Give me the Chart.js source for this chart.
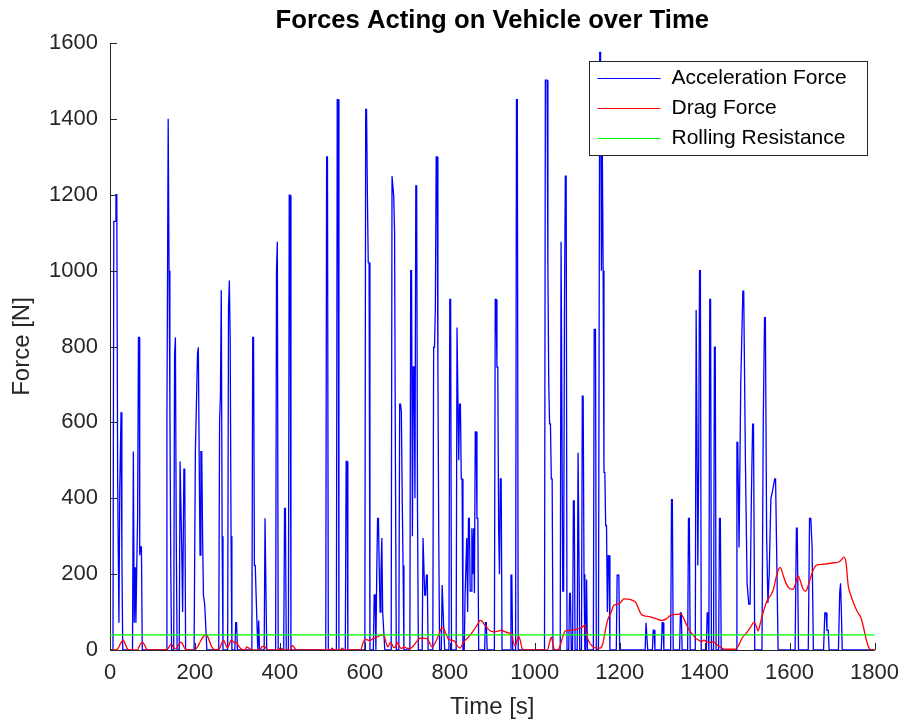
<!DOCTYPE html>
<html>
<head>
<meta charset="utf-8">
<title>Forces Acting on Vehicle over Time</title>
<script src="https://cdn.jsdelivr.net/npm/chart.js"></script>
<style>
  html, body { margin: 0; padding: 0; background: #fff; }
  canvas { display: block; }
</style>
</head>
<body>
<canvas id="forceChart" width="909" height="727"></canvas>
<script>
// [time s, force N]
const accelerationForce = [
  [0,0],[7,0],[9,1130],[12,1130],[14,1200],[16,1200],[18,450],[21,72],[23,425],[26,627],[28,250],[30,0],
  [50,0],[53,0],[55,523],[57,72],[59,218],[61,72],[63,218],[65,350],[67,824],[69,824],[70,250],[72,272],[74,272],[76,0],
  [132,0],[134,600],[137,1400],[139,1000],[141,648],[143,228],[145,0],
  [150,0],[152,777],[154,824],[156,300],[158,0],[163,0],[165,497],[167,497],[169,259],[171,100],[174,477],[176,477],[178,0],
  [198,0],[201,523],[203,622],[206,780],[208,798],[210,500],[212,250],[214,523],[216,523],[218,300],[220,145],[223,120],[226,50],[228,0],
  [256,0],[258,600],[260,673],[262,948],[264,300],[266,0],
  [277,0],[279,900],[281,974],[283,818],[285,300],[287,0],
  [294,0],[296,72],[298,72],[300,0],
  [334,0],[336,824],[338,824],[340,223],[342,223],[344,145],[346,145],[348,0],[350,78],[352,0],
  [363,0],[365,347],[367,347],[369,0],
  [390,0],[392,1000],[394,1076],[396,0],
  [409,0],[411,373],[413,373],[415,0],
  [420,0],[422,1199],[424,1199],[426,0],
  [508,0],[510,1300],[512,1300],[514,0],
  [533,0],[535,1451],[537,1451],[539,0],
  [554,0],[556,497],[558,497],[560,0],
  [600,0],[602,1425],[604,1425],[606,1200],[608,1021],[610,1021],[612,0],
  [620,0],[622,145],[624,145],[626,0],[628,200],[630,347],[632,347],[634,207],[636,100],[638,207],[640,295],[642,100],[644,60],[647,0],
  [662,0],[664,1249],[666,1249],[668,1197],[670,1100],[672,497],[674,0],
  [680,0],[682,648],[684,648],[686,627],[688,400],[690,223],[692,0],
  [706,0],[708,1000],[710,1000],[712,300],[714,746],[716,746],[718,400],[720,1223],[722,1223],[724,373],[726,0],
  [735,0],[737,295],[739,295],[741,145],[743,145],[745,197],[747,197],[749,0],
  [760,0],[762,798],[764,798],[766,900],[768,1300],[770,1300],[772,746],[774,300],[776,0],[780,0],[782,171],[784,171],[786,50],[788,0],
  [798,0],[800,924],[802,924],[804,0],
  [815,0],[817,850],[819,850],[821,500],[823,648],[825,648],[827,451],[829,451],[831,0],
  [834,0],[836,145],[838,145],[840,295],[842,100],[844,347],[846,347],[848,155],[850,155],[852,321],[854,200],[856,321],[858,150],[860,575],[862,575],[864,347],[866,347],[868,0],
  [882,0],[884,72],[886,72],[888,0],
  [905,0],[907,924],[909,924],[911,746],[913,746],[915,321],[917,200],[919,451],[921,451],[923,0],
  [942,0],[944,197],[946,197],[948,0],
  [955,0],[957,1451],[959,1451],[961,0],
  [1023,0],[1025,1502],[1029,1502],[1031,1000],[1033,700],[1035,596],[1037,596],[1039,451],[1041,451],[1043,0],
  [1060,0],[1062,1076],[1064,1076],[1066,155],[1068,155],[1070,900],[1072,1249],[1074,1249],[1076,0],
  [1080,0],[1082,149],[1084,149],[1086,0],[1089,0],[1091,393],[1093,393],[1095,0],[1100,0],[1102,520],[1104,520],[1106,0],
  [1110,0],[1112,669],[1114,669],[1116,200],[1118,0],[1120,0],[1122,186],[1124,0],
  [1138,0],[1140,845],[1143,845],[1145,0],[1150,0],[1153,1575],[1155,1575],[1157,1000],[1159,1350],[1161,1000],[1163,468],[1165,468],[1167,328],[1169,328],[1171,100],[1173,249],[1175,249],[1177,0],
  [1192,0],[1194,197],[1198,197],[1200,0],
  [1260,0],[1262,72],[1264,72],[1266,0],[1277,0],[1279,52],[1281,52],[1283,0],[1298,0],[1300,72],[1302,72],[1304,0],
  [1320,0],[1322,396],[1324,396],[1326,0],[1341,0],[1343,98],[1345,98],[1347,0],[1360,0],[1362,347],[1364,347],[1366,0],
  [1378,0],[1380,896],[1382,896],[1384,223],[1386,500],[1388,1000],[1390,1000],[1392,0],
  [1404,0],[1406,98],[1408,98],[1410,0],[1412,924],[1414,924],[1416,0],[1421,0],[1423,798],[1425,798],[1427,0],[1433,0],[1435,347],[1437,347],[1439,0],
  [1474,0],[1476,547],[1478,547],[1481,270],[1485,700],[1490,946],[1492,946],[1496,500],[1500,175],[1504,121],[1507,121],[1510,400],[1513,595],[1515,595],[1518,0],
  [1535,0],[1538,600],[1541,876],[1543,876],[1546,300],[1549,124],[1552,200],[1556,399],[1560,420],[1565,451],[1567,451],[1570,228],[1573,0],
  [1613,0],[1616,321],[1618,321],[1621,0],
  [1644,0],[1647,347],[1650,347],[1653,270],[1656,0],
  [1680,0],[1683,98],[1686,98],[1688,52],[1691,52],[1693,0],
  [1715,0],[1718,150],[1720,176],[1722,100],[1724,0],[1800,0]
];

const dragForce = [
  [0,0],[14,0],[20,6],[26,20],[31,26],[35,18],[40,5],[46,0],[64,0],[70,12],[76,21],[81,14],[86,3],[92,0],
  [134,0],[139,8],[144,16],[149,8],[154,3],[160,10],[166,20],[170,18],[175,6],[180,0],
  [198,0],[206,8],[214,25],[222,38],[227,41],[232,30],[238,12],[244,2],[250,0],
  [256,0],[262,15],[267,26],[271,18],[276,6],[280,12],[285,26],[289,24],[294,18],[298,20],[303,10],[310,2],[318,0],
  [322,8],[328,4],[334,0],[352,0],[357,8],[362,10],[368,4],[374,0],[396,0],[400,5],[406,3],[412,0],[424,0],[429,12],[434,6],[440,0],
  [518,0],[523,5],[528,0],[542,0],[547,5],[552,0],
  [590,0],[596,20],[602,28],[610,25],[620,30],[630,35],[640,40],[645,38],[650,20],[654,8],[660,20],[664,15],[668,6],[672,8],[676,20],[680,12],
  [686,4],[692,8],[698,5],[706,4],[714,10],[722,22],[730,31],[738,31],[746,30],[752,20],[758,8],[766,20],[774,40],[780,57],[784,59],[790,45],
  [796,30],[804,26],[812,22],[818,10],[824,5],[832,20],[842,32],[852,45],[860,58],[866,68],[871,78],[876,76],[882,66],[888,58],[896,50],
  [906,48],[914,50],[922,52],[930,48],[938,45],[945,42],[950,20],[954,10],[958,25],[962,36],[966,25],[970,5],[976,0],
  [1030,0],[1035,20],[1039,34],[1043,15],[1047,0],[1054,0],[1060,12],[1066,35],[1072,50],[1080,52],[1090,53],[1100,55],[1108,58],[1114,62],[1118,67],
  [1122,40],[1128,21],[1136,10],[1144,5],[1154,5],
  [1160,15],[1166,50],[1172,80],[1180,100],[1186,118],[1194,120],[1202,125],[1210,135],[1220,134],[1230,131],[1238,125],[1244,110],[1250,95],
  [1258,90],[1270,88],[1285,83],[1300,78],[1310,82],[1318,90],[1326,93],[1336,94],[1344,95],[1350,85],[1356,70],[1364,52],[1372,41],[1380,30],
  [1386,26],[1392,22],[1398,26],[1404,22],[1412,20],[1420,22],[1428,15],[1436,8],[1442,4],[1452,2],[1472,2],[1480,12],[1488,31],[1496,42],
  [1500,47],[1508,60],[1516,73],[1522,62],[1526,50],[1531,70],[1538,100],[1547,130],[1556,145],[1562,160],[1568,190],[1574,212],[1578,218],
  [1584,200],[1592,175],[1600,162],[1608,160],[1614,175],[1620,195],[1626,180],[1632,160],[1638,155],[1644,170],[1652,200],[1660,220],[1668,225],
  [1680,226],[1692,228],[1704,230],[1716,232],[1722,238],[1728,245],[1733,230],[1738,170],[1744,145],[1752,120],[1760,100],[1768,85],[1774,60],
  [1780,30],[1786,8],[1792,0],[1800,0]
];

const rollingResistance = 40;     // N, constant over the cycle
const cycleSpan = [0, 1800];      // s
const xTicks = [0, 200, 400, 600, 800, 1000, 1200, 1400, 1600, 1800];
const yTicks = [0, 200, 400, 600, 800, 1000, 1200, 1400, 1600];

const seriesNames = ['Acceleration Force', 'Drag Force', 'Rolling Resistance'];
const seriesColors = ['#0000ff', '#ff0000', '#00ff00'];
const chartTitle = 'Forces Acting on Vehicle over Time';

const axisColor = '#262626';
const fontFamily = '"Liberation Sans", Helvetica, Arial, sans-serif';

const toPoints = arr => arr.map(p => ({ x: p[0], y: p[1] }));

// title centred over the axes, not the whole canvas
const axesTitle = {
  id: 'axesTitle',
  afterDraw(chart) {
    const { ctx, chartArea } = chart;
    ctx.save();
    ctx.fillStyle = '#000';
    ctx.font = 'bold 25.7px ' + fontFamily;
    ctx.textAlign = 'center';
    ctx.textBaseline = 'middle';
    ctx.fillText(chartTitle, (chartArea.left + chartArea.right) / 2, 21);
    ctx.restore();
  }
};

// MATLAB style inward tick marks
const tickMarks = {
  id: 'tickMarks',
  afterDraw(chart) {
    const { ctx, chartArea, scales } = chart;
    const len = 7;
    ctx.save();
    ctx.strokeStyle = axisColor;
    ctx.lineWidth = 1;
    ctx.beginPath();
    yTicks.forEach(v => {
      const y = Math.round(scales.y.getPixelForValue(v)) + 0.5;
      ctx.moveTo(chartArea.left, y);
      ctx.lineTo(chartArea.left + len, y);
    });
    xTicks.forEach(v => {
      const x = Math.round(scales.x.getPixelForValue(v)) + 0.5;
      ctx.moveTo(x, chartArea.bottom);
      ctx.lineTo(x, chartArea.bottom - len);
    });
    ctx.stroke();
    ctx.restore();
  }
};

// boxed legend in the upper right of the axes
const boxLegend = {
  id: 'boxLegend',
  afterDraw(chart) {
    const { ctx, chartArea } = chart;
    const right = chartArea.right - 8, top = chartArea.top + 18;
    const w = 278, h = 94, rowH = 30;
    const left = right - w;
    ctx.save();
    ctx.fillStyle = '#fff';
    ctx.fillRect(left, top, w, h);
    ctx.strokeStyle = axisColor;
    ctx.lineWidth = 1;
    ctx.strokeRect(Math.round(left) + 0.5, Math.round(top) + 0.5, w, h);
    ctx.font = '21px ' + fontFamily;
    ctx.textBaseline = 'middle';
    ctx.textAlign = 'left';
    chart.data.datasets.forEach((ds, i) => {
      const y = Math.round(top + 17 + i * rowH) + 0.5;
      ctx.strokeStyle = ds.borderColor;
      ctx.lineWidth = 1.2;
      ctx.beginPath();
      ctx.moveTo(left + 9, y);
      ctx.lineTo(left + 72, y);
      ctx.stroke();
      ctx.fillStyle = '#000';
      ctx.fillText(ds.label, left + 83, y);
    });
    ctx.restore();
  }
};

const ctx = document.getElementById('forceChart').getContext('2d');
new Chart(ctx, {
  type: 'line',
  data: {
    datasets: [
      {
        label: seriesNames[0],
        data: toPoints(accelerationForce),
        borderColor: seriesColors[0],
        borderWidth: 1.3,
        pointRadius: 0,
        tension: 0,
        order: 2
      },
      {
        label: seriesNames[1],
        data: toPoints(dragForce),
        borderColor: seriesColors[1],
        borderWidth: 1.3,
        pointRadius: 0,
        cubicInterpolationMode: 'monotone',
        order: 1
      },
      {
        label: seriesNames[2],
        data: cycleSpan.map(t => ({ x: t, y: rollingResistance })),
        borderColor: seriesColors[2],
        borderWidth: 1.3,
        pointRadius: 0,
        order: 0
      }
    ]
  },
  options: {
    responsive: false,
    animation: false,
    events: [],
    layout: { padding: { left: 0, right: 31, top: 43, bottom: 0 } },
    plugins: {
      legend: { display: false },
      tooltip: { enabled: false },
      title: { display: false }
    },
    scales: {
      x: {
        type: 'linear',
        min: cycleSpan[0],
        max: cycleSpan[1],
        afterBuildTicks: s => { s.ticks = xTicks.map(v => ({ value: v })); },
        afterFit: s => { s.height = 77; },
        grid: { display: false, drawTicks: false },
        border: { display: true, color: axisColor, width: 1 },
        ticks: {
          color: axisColor,
          font: { family: fontFamily, size: 22 },
          padding: 10,
          autoSkip: false,
          maxRotation: 0,
          callback: v => String(v)
        },
        title: {
          display: true,
          text: 'Time [s]',
          color: axisColor,
          font: { family: fontFamily, size: 24 },
          padding: { top: 0, bottom: 5 }
        }
      },
      y: {
        min: 0,
        max: 1600,
        afterBuildTicks: s => { s.ticks = yTicks.map(v => ({ value: v })); },
        afterFit: s => { s.width = 110; },
        grid: { display: false, drawTicks: false },
        border: { display: true, color: axisColor, width: 1 },
        ticks: {
          color: axisColor,
          font: { family: fontFamily, size: 22 },
          padding: 12,
          callback: v => String(v)
        },
        title: {
          display: true,
          text: 'Force [N]',
          color: axisColor,
          font: { family: fontFamily, size: 24 },
          padding: { top: 8, bottom: 0 }
        }
      }
    }
  },
  plugins: [axesTitle, tickMarks, boxLegend]
});
</script>
</body>
</html>
